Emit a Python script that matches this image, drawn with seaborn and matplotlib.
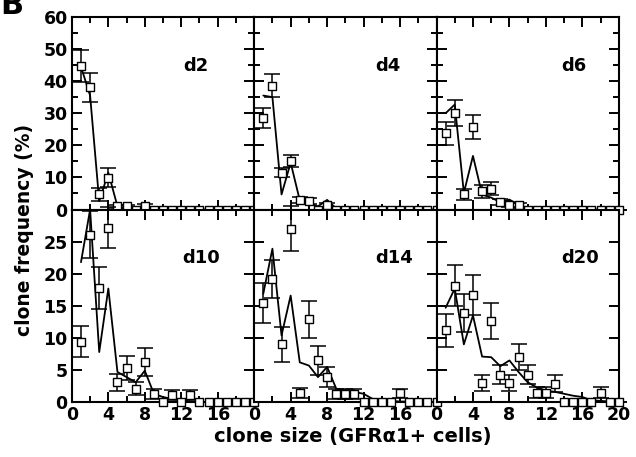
import numpy as np
import pandas as pd
import seaborn as sns
import matplotlib.pyplot as plt
from matplotlib.ticker import MultipleLocator

# clone sizes (GFRa1+ cells per clone)
sizes = list(range(1, 21))

# measured clone frequency (%) and error, plus model curve, for each day
d2_freq = [44.7, 38.1, 4.7, 9.9, 1.0, 1.0, 0.0, 1.0, 0, 0, 0, 0, 0, 0, 0, 0, 0, 0, 0, 0]
d2_err = [5.0, 4.5, 2.0, 3.0, 0.5, 0.5, 0.3, 0.8, 0, 0, 0, 0, 0, 0, 0, 0, 0, 0, 0, 0]
d2_model = [44.5, 35.5, 2.6, 11.5, 1.0, 0.5, 0.3, 1.5, 0, 0, 0, 0, 0, 0, 0, 0, 0, 0, 0, 0]

d4_freq = [28.5, 38.6, 11.5, 15.1, 2.9, 2.6, 0.0, 1.3, 0, 0, 0, 0, 0, 0, 0, 0, 0, 0, 0, 0]
d4_err = [3.0, 3.5, 1.5, 2.0, 1.0, 1.0, 0, 0.8, 0, 0, 0, 0, 0, 0, 0, 0, 0, 0, 0, 0]
d4_model = [35.5, 35.0, 4.7, 14.6, 2.9, 2.0, 1.0, 3.0, 0.3, 0, 0, 0, 0, 0, 0, 0, 0, 0, 0, 0]

d6_freq = [23.7, 30.0, 4.7, 25.8, 5.7, 6.5, 2.3, 1.5, 1.3, 0, 0, 0, 0, 0, 0, 0, 0, 0, 0, 0]
d6_err = [3.5, 4.0, 1.8, 3.8, 2.0, 2.0, 1.0, 0.8, 0.8, 0, 0, 0, 0, 0, 0, 0, 0, 0, 0, 0]
d6_model = [30.0, 32.7, 5.2, 16.7, 4.7, 3.7, 2.3, 3.1, 1.4, 0.5, 0, 0, 0, 0, 0, 0, 0, 0, 0, 0]

d10_freq = [9.4, 26.1, 17.8, 27.2, 3.1, 5.3, 2.1, 6.2, 1.3, 0.0, 1.1, 0.0, 1.1, 0, 0, 0, 0, 0, 0, 0]
d10_err = [2.4, 3.7, 3.3, 3.2, 1.3, 1.9, 1.0, 2.2, 0.8, 0, 0.8, 0, 0.8, 0, 0, 0, 0, 0, 0, 0]
d10_model = [21.8, 30.0, 7.8, 17.7, 4.7, 3.9, 3.1, 4.9, 1.3, 0.8, 0.5, 0.3, 0.1, 0, 0, 0, 0, 0, 0, 0]

d14_freq = [15.5, 19.2, 9.0, 27.0, 1.4, 12.9, 6.5, 3.9, 1.3, 1.3, 1.3, 0, 0, 0, 0, 1.4, 0, 0, 0, 0]
d14_err = [3.1, 3.0, 2.7, 3.5, 0.8, 2.9, 2.2, 1.5, 0.8, 0.8, 0.8, 0, 0, 0, 0, 0.7, 0, 0, 0, 0]
d14_model = [16.9, 23.9, 10.4, 16.6, 6.2, 5.7, 3.9, 5.5, 2.1, 1.8, 1.6, 1.3, 0.5, 0.3, 0.2, 0.1, 0.1, 0, 0, 0]

d20_freq = [11.2, 18.1, 13.9, 16.7, 3.0, 12.6, 4.3, 3.0, 7.0, 4.3, 1.5, 1.5, 2.9, 0, 0, 0, 0, 1.5, 0, 0]
d20_err = [2.6, 3.2, 2.9, 3.1, 1.3, 2.8, 1.5, 1.3, 2.0, 1.5, 0.8, 0.8, 1.3, 0, 0, 0, 0, 0.8, 0, 0]
d20_model = [14.7, 17.7, 9.0, 13.5, 7.1, 7.0, 5.6, 6.5, 4.7, 3.1, 2.3, 1.8, 1.6, 1.3, 1.0, 0.8, 0.3, 0.2, 0.1, 0]

days = ['d2', 'd4', 'd6', 'd10', 'd14', 'd20']
freqs = [d2_freq, d4_freq, d6_freq, d10_freq, d14_freq, d20_freq]
errs = [d2_err, d4_err, d6_err, d10_err, d14_err, d20_err]
models = [d2_model, d4_model, d6_model, d10_model, d14_model, d20_model]

sns.set_style('ticks')
plt.rcParams['font.family'] = ['DejaVu Sans']
plt.rcParams['font.weight'] = 'bold'
plt.rcParams['text.color'] = 'black'
plt.rcParams['xtick.color'] = 'black'
plt.rcParams['ytick.color'] = 'black'
plt.rcParams['xtick.labelcolor'] = 'black'
plt.rcParams['ytick.labelcolor'] = 'black'

fig, axes = plt.subplots(2, 3, figsize=(6.36, 4.57), dpi=100,
                         gridspec_kw={'wspace': 0, 'hspace': 0})
fig.subplots_adjust(left=0.113, right=0.973, top=0.963, bottom=0.12)

# label positions (axes fraction)
label_pos = [(0.68, 0.745), (0.735, 0.745), (0.755, 0.745),
             (0.71, 0.75), (0.765, 0.75), (0.79, 0.75)]

for i, ax in enumerate(axes.flat):
    df = pd.DataFrame({'size': sizes, 'freq': freqs[i], 'err': errs[i], 'model': models[i]})
    sns.lineplot(data=df, x='size', y='model', ax=ax, color='black', linewidth=1.3, zorder=2)
    ax.errorbar(df['size'], df['freq'], yerr=df['err'], fmt='none', ecolor='black',
                elinewidth=1.1, capsize=5.5, capthick=1.1, zorder=3, clip_on=False)
    sns.scatterplot(data=df, x='size', y='freq', ax=ax, marker='s', s=30,
                    facecolor='white', edgecolor='black', linewidth=1.0, zorder=4, clip_on=False)

    row, col = divmod(i, 3)
    if row == 0:
        ax.set_ylim(0, 60)
        ax.yaxis.set_major_locator(MultipleLocator(10))
        ax.yaxis.set_minor_locator(MultipleLocator(5))
    else:
        ax.set_ylim(0, 30)
        ax.yaxis.set_major_locator(MultipleLocator(5))
    ax.xaxis.set_major_locator(MultipleLocator(4))
    ax.xaxis.set_minor_locator(MultipleLocator(2))
    ax.set_xlim(0, 20)
    ax.tick_params(which='both', direction='in', top=True, right=True, width=1.4,
                   labelsize=12.5, pad=3, colors='black')
    ax.tick_params(which='major', length=7)
    ax.tick_params(which='minor', length=4)
    for sp in ax.spines.values():
        sp.set_linewidth(1.5)
        sp.set_color('black')
    ax.set_xlabel('')
    ax.set_ylabel('')

    if col == 0:
        if row == 0:
            ax.set_yticks([0, 10, 20, 30, 40, 50, 60])
        else:
            ax.set_yticks([0, 5, 10, 15, 20, 25])
    else:
        ax.tick_params(labelleft=False)
    if row == 1:
        if col < 2:
            ax.set_xticks([0, 4, 8, 12, 16])
        else:
            ax.set_xticks([0, 4, 8, 12, 16, 20])
        ax.set_xlim(0, 20)
    else:
        ax.tick_params(labelbottom=False)
    for lab in ax.get_xticklabels() + ax.get_yticklabels():
        lab.set_fontweight('bold')

    ax.text(label_pos[i][0], label_pos[i][1], days[i], transform=ax.transAxes,
            ha='center', va='center', fontsize=13, fontweight='bold', color='black')

fig.text(0.555, 0.044, 'clone size (GFRα1+ cells)', ha='center', va='center',
         fontsize=14, fontweight='bold', color='black')
fig.text(0.038, 0.497, 'clone frequency (%)', ha='center', va='center', rotation=90,
         fontsize=13.5, fontweight='bold', color='black')
fig.text(0.0, 0.969, 'B', ha='left', va='baseline', fontsize=22, fontweight='bold',
         color='black')

plt.savefig('out.png', dpi=100)
